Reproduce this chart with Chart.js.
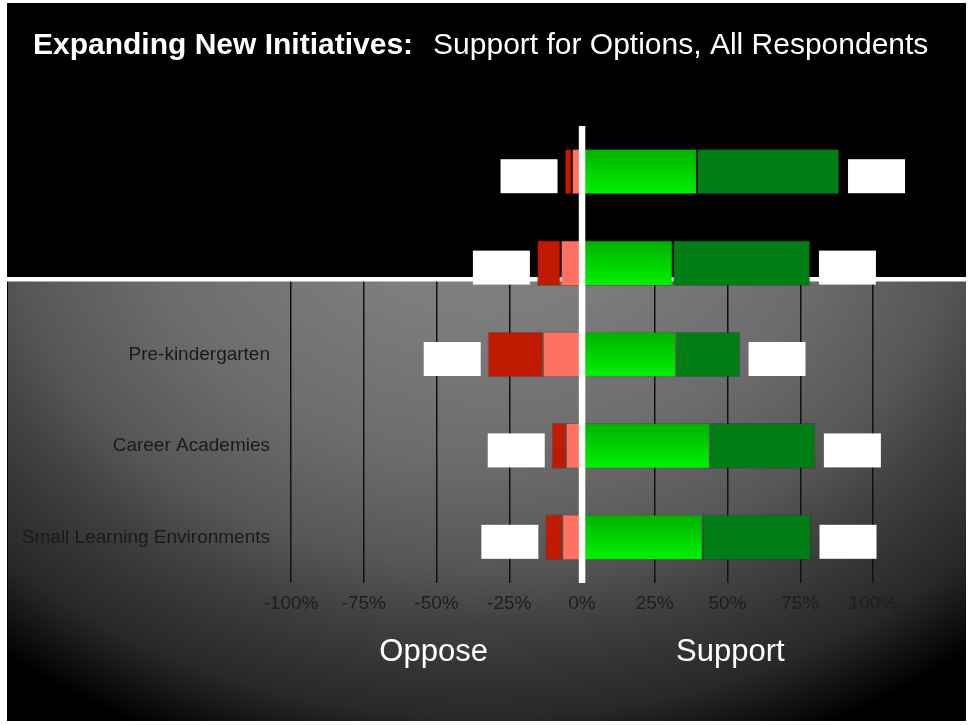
<!DOCTYPE html>
<html>
<head>
<meta charset="utf-8">
<script src="https://cdn.jsdelivr.net/npm/chart.js@4"></script>
<style>
  html, body { margin: 0; padding: 0; background: #fff; }
  #wrap { width: 969px; height: 725px; position: relative; }
</style>
</head>
<body>
<div id="wrap"><canvas id="initChart" width="969" height="725"></canvas></div>
<script>
// Chart data (percent of respondents)
const categories = ["", "", "Pre-kindergarten", "Career Academies", "Small Learning Environments"];
const somewhatOppose = [3.5, 7.3, 13.4, 5.5, 6.8];
const stronglyOppose = [2.5, 8.2, 19, 4.9, 5.8];
const somewhatSupport = [39.5, 31.2, 32.3, 44, 41.5];
const stronglySupport = [49, 47.3, 22, 36.2, 37.2];
const xTicks = [-100, -75, -50, -25, 0, 25, 50, 75, 100];

const FONT = "'Liberation Sans', Arial, Helvetica, sans-serif";

// Slide background: black frame, grey radial panel
const backdrop = {
  id: "backdrop",
  beforeDraw(chart) {
    const ctx = chart.ctx;
    ctx.save();
    ctx.fillStyle = "#fff";
    ctx.fillRect(0, 0, 969, 725);
    ctx.fillStyle = "#000";
    ctx.fillRect(7, 3, 959, 718);

    ctx.beginPath();
    ctx.rect(8, 281, 958, 440);
    ctx.clip();
    ctx.translate(483, 190);
    ctx.scale(760, 600);
    const g = ctx.createRadialGradient(0, 0, 0, 0, 0, 1);
    const stops = [
      [0, "#808080"], [0.2, "#7d7d7d"], [0.45, "#6c6c6c"], [0.63, "#565656"],
      [0.72, "#424242"], [0.8, "#343434"], [0.88, "#282828"], [0.94, "#141414"], [1, "#000"],
    ];
    stops.forEach(([p, c]) => g.addColorStop(p, c));
    ctx.fillStyle = g;
    ctx.fillRect(-1, -1, 2, 2);
    ctx.restore();
  },
  beforeDatasetsDraw(chart) {
    // black header block hides the upper grid, white rule under it
    const ctx = chart.ctx;
    ctx.save();
    ctx.fillStyle = "#000";
    ctx.fillRect(7, 90, 959, 187);
    ctx.fillStyle = "#fff";
    ctx.fillRect(7, 277, 959, 4.5);
    ctx.restore();
  },
};

// Zero line, blanked value labels, title and side captions
const overlay = {
  id: "overlay",
  afterDatasetsDraw(chart) {
    const ctx = chart.ctx;
    const x = chart.scales.x;
    const y = chart.scales.y;
    const area = chart.chartArea;
    ctx.save();
    ctx.fillStyle = "#fff";
    categories.forEach((c, i) => {
      const cy = y.getPixelForValue(i) + 4.5;
      const left = x.getPixelForValue(-(somewhatOppose[i] + stronglyOppose[i]));
      const right = x.getPixelForValue(somewhatSupport[i] + stronglySupport[i]);
      ctx.fillRect(left - 7 - 57, cy - 17, 57, 34);
      ctx.fillRect(right + 8.5, cy - 17, 57, 34);
    });
    const zx = x.getPixelForValue(0);
    ctx.fillRect(zx - 3.2, area.top, 6.5, area.bottom - area.top);
    ctx.restore();
  },
  afterDraw(chart) {
    const ctx = chart.ctx;
    const x = chart.scales.x;
    ctx.save();
    ctx.fillStyle = "#fff";
    ctx.textBaseline = "alphabetic";
    ctx.textAlign = "left";
    ctx.font = "bold 30px " + FONT;
    const head = "Expanding New Initiatives:";
    ctx.fillText(head, 33, 54);
    const w = ctx.measureText(head).width;
    ctx.font = "30px " + FONT;
    ctx.fillText("Support for Options, All Respondents", 33 + w + 20, 54);

    ctx.textAlign = "center";
    ctx.textBaseline = "middle";
    ctx.font = "31px " + FONT;
    ctx.fillText("Oppose", x.getPixelForValue(-51), 652);
    ctx.fillText("Support", x.getPixelForValue(51), 652);
    ctx.restore();
  },
};

const greenFill = (c) => {
  const chart = c.chart;
  if (!chart.chartArea || !chart.scales.y) return "#00d000";
  const cy = chart.scales.y.getPixelForValue(c.dataIndex);
  const g = chart.ctx.createLinearGradient(0, cy - 23, 0, cy + 23);
  g.addColorStop(0, "#00b000");
  g.addColorStop(1, "#00f200");
  return g;
};

const ctx = document.getElementById("initChart").getContext("2d");
new Chart(ctx, {
  type: "bar",
  data: {
    labels: categories,
    datasets: [
      {
        label: "Somewhat oppose",
        data: somewhatOppose.map((v) => -v),
        backgroundColor: "#ff7262",
        borderColor: "rgba(150,40,30,0.35)",
      },
      {
        label: "Strongly oppose",
        data: stronglyOppose.map((v) => -v),
        backgroundColor: "#c01a00",
        borderColor: "rgba(90,10,0,0.35)",
      },
      {
        label: "Somewhat support",
        data: somewhatSupport,
        backgroundColor: greenFill,
        borderColor: "rgba(0,80,0,0.3)",
      },
      {
        label: "Strongly support",
        data: stronglySupport,
        backgroundColor: "#007e15",
        borderColor: "rgba(0,50,0,0.35)",
      },
    ],
  },
  options: {
    indexAxis: "y",
    responsive: false,
    animation: false,
    devicePixelRatio: 1,
    layout: { padding: { top: 126, right: 96, left: 0, bottom: 0 } },
    datasets: {
      bar: { categoryPercentage: 1, barPercentage: 0.5, borderWidth: 1, borderSkipped: false },
    },
    plugins: {
      legend: { display: false },
      tooltip: { enabled: false },
    },
    scales: {
      x: {
        stacked: true,
        min: -100,
        max: 100,
        afterBuildTicks: (scale) => {
          scale.ticks = xTicks.map((v) => ({ value: v }));
        },
        afterFit: (scale) => {
          scale.height = 142;
        },
        grid: { color: "#111", lineWidth: 1.5, drawTicks: false },
        border: { display: false },
        ticks: {
          color: "#1e1e1e",
          font: { family: FONT, size: 19 },
          padding: 9,
          callback: (v) => v + "%",
        },
      },
      y: {
        stacked: true,
        afterFit: (scale) => {
          scale.width = 291;
        },
        grid: { display: false, drawTicks: false },
        border: { display: false },
        ticks: {
          color: "#1a1a1a",
          font: { family: FONT, size: 19 },
          padding: 21,
        },
      },
    },
  },
  plugins: [backdrop, overlay],
});
</script>
</body>
</html>
